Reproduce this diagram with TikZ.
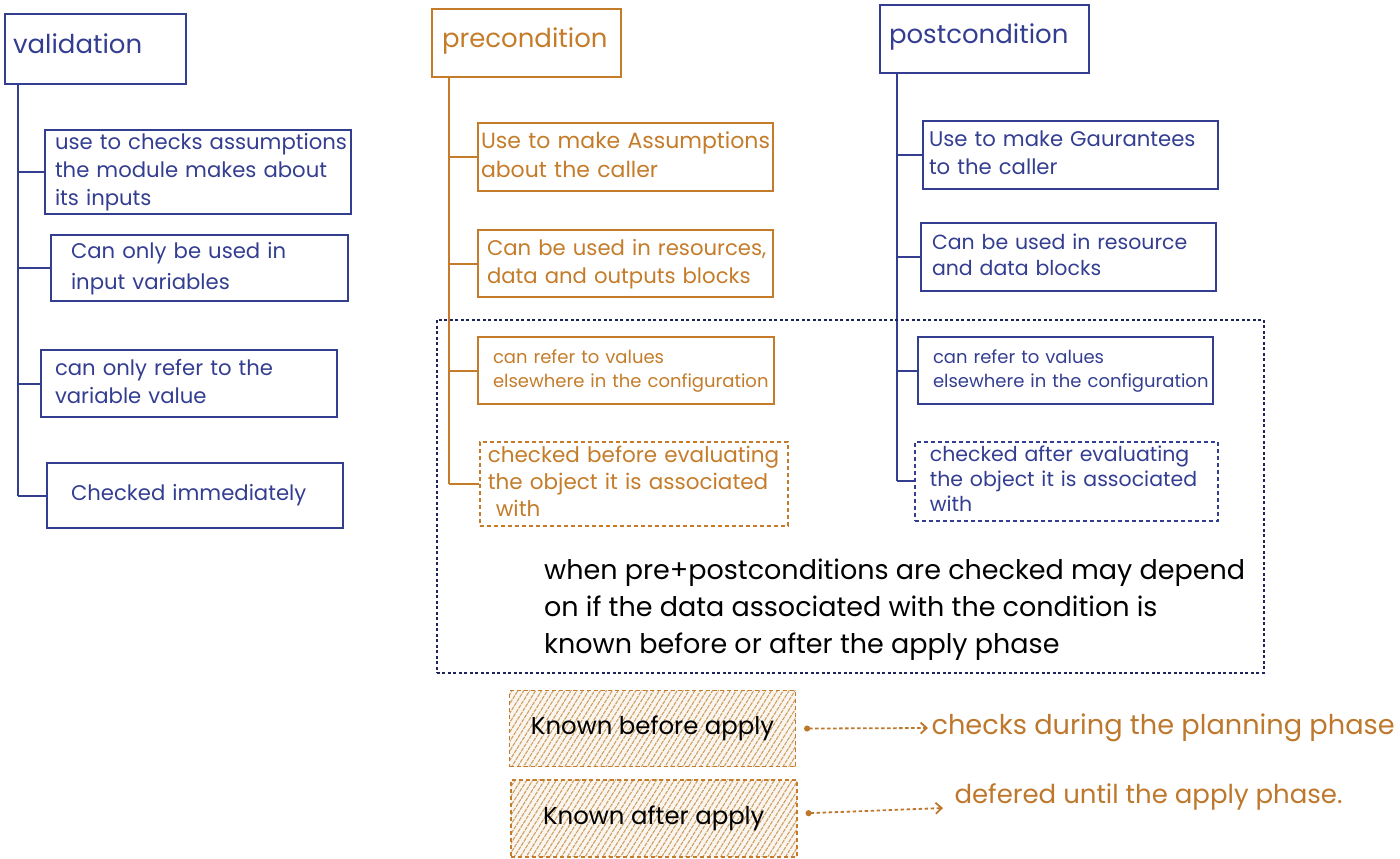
\documentclass[tikz,border=0pt]{standalone}
\usepackage{fontspec}
\setmainfont{Poppins}
\usetikzlibrary{arrows.meta,patterns.meta}
\definecolor{bl}{RGB}{52,62,145}
\definecolor{orn}{RGB}{196,124,42}
\definecolor{brn}{RGB}{190,120,45}
\definecolor{tanl}{RGB}{205,160,100}
\definecolor{nv}{RGB}{30,35,90}
\newcommand\ftitle{\fontsize{26}{30}\selectfont}
\newcommand\fbody{\fontsize{21.2}{28}\selectfont}
\newcommand\fbodyb{\fontsize{21.2}{31}\selectfont}
\newcommand\fsmall{\fontsize{18}{24}\selectfont}
\newcommand\fmid{\fontsize{20.5}{26}\selectfont}
\newcommand\fbig{\fontsize{27}{37}\selectfont}
\newcommand\lns[1]{\begin{tabular}{@{}l@{}}#1\end{tabular}}
\begin{document}
\begin{tikzpicture}[x=1pt,y=-1pt,
  bx/.style={draw, line width=2pt, anchor=north west, align=left, inner ysep=0pt},
  vb/.style={bx, draw=bl, text=bl},
  ob/.style={bx, draw=orn, text=orn},
  ttl/.style={text depth=10pt},
  dsh/.style={dash pattern=on 4pt off 3pt, line width=1.7pt},
  vline/.style={draw=bl, line width=2pt},
  oline/.style={draw=orn, line width=2pt},
  hatch/.style={draw=orn, dash pattern=on 4pt off 3pt, line width=1.6pt, anchor=north west,
    preaction={fill=tanl!10}, pattern={Lines[angle=58,distance=5pt,line width=1.1pt]}, pattern color=tanl, text=black, font=\fontsize{24.4}{28}\selectfont},
  arr/.style={draw=brn, line width=1.8pt, dash pattern=on 3.5pt off 2.5pt, {Circle[length=6pt]}-{Straight Barb[length=6pt,width=11pt]}},
]
\useasboundingbox (0,0) rectangle (1400,859);

% ---------- validation ----------
\node[vb, ttl, minimum width=181pt, minimum height=70pt, inner xsep=8pt, text width=165pt, font=\ftitle] (vT) at (4,13) {validation};
\node[vb, minimum width=306pt, minimum height=84pt, inner xsep=10pt, text width=286pt, font=\fbody] (v1) at (44,129) {\lns{use to checks assumptions\\the module makes about\\its inputs}};
\node[vb, minimum width=297pt, minimum height=66pt, inner xsep=20pt, text width=257pt, font=\fbodyb] (v2) at (50,234) {\lns{Can only be used in\\input variables}};
\node[vb, minimum width=296pt, minimum height=67pt, inner xsep=14pt, text width=268pt, font=\fbody] (v3) at (40,349) {\lns{can only refer to the\\variable value}};
\node[vb, minimum width=296pt, minimum height=65pt, inner xsep=24pt, text width=248pt, font=\fbody] (v4) at (46,462) {Checked immediately};
\coordinate (vs) at ([xshift=14pt]vT.south west);
\draw[vline] (vs) -- (vs |- v4.west);
\foreach \n in {v1,v2,v3,v4} \draw[vline] (vs |- \n.west) -- (\n.west);

% ---------- precondition ----------
\node[ob, ttl, minimum width=189pt, minimum height=68pt, inner xsep=10pt, text width=169pt, font=\ftitle] (pT) at (431,8) {precondition};
\node[ob, minimum width=295pt, minimum height=68pt, inner xsep=3pt, text width=289pt, font=\fontsize{22}{29}\selectfont] (p1) at (477,122) {\lns{Use to make Assumptions\\about the caller}};
\node[ob, minimum width=295pt, minimum height=67pt, inner xsep=9pt, text width=277pt, font=\fbody] (p2) at (477,229) {\lns{Can be used in resources,\\data and outputs blocks}};
\node[ob, minimum width=296pt, minimum height=67pt, inner xsep=15pt, text width=266pt, font=\fsmall] (p3) at (477,336) {\lns{can refer to values\\elsewhere in the configuration}};
\node[ob, dsh, minimum width=308pt, minimum height=84pt, inner xsep=8pt, text width=292pt, font=\fontsize{21.5}{27}\selectfont] (p4) at (479,441) {\lns{checked before evaluating\\the object it is associated\\\hspace{8pt}with}};
\coordinate (ps) at ([xshift=18pt]pT.south west);
\draw[oline] (ps) -- (ps |- p4.west);
\foreach \n in {p1,p2,p3,p4} \draw[oline] (ps |- \n.west) -- (\n.west);

% ---------- postcondition ----------
\node[vb, ttl, minimum width=209pt, minimum height=68pt, inner xsep=9pt, text width=191pt, font=\ftitle] (qT) at (879,4) {postcondition};
\node[vb, minimum width=295pt, minimum height=68pt, inner xsep=6pt, text width=283pt, font=\fbody] (q1) at (922,120) {\lns{Use to make Gaurantees\\to the caller}};
\node[vb, minimum width=295pt, minimum height=68pt, inner xsep=11pt, text width=273pt, font=\fmid] (q2) at (920,222) {\lns{Can be used in resource\\and data blocks}};
\node[vb, minimum width=295pt, minimum height=67pt, inner xsep=15pt, text width=265pt, font=\fsmall] (q3) at (917,336) {\lns{can refer to values\\elsewhere in the configuration}};
\node[vb, dsh, minimum width=303pt, minimum height=79pt, inner xsep=15pt, text width=273pt, font=\fontsize{20.5}{25}\selectfont] (q4) at (914,441) {\lns{checked after evaluating\\the object it is associated\\with}};
\coordinate (qs) at ([xshift=18pt]qT.south west);
\draw[vline] (qs) -- (qs |- q4.west);
\foreach \n in {q1,q2,q3,q4} \draw[vline] (qs |- \n.west) -- (\n.west);

% ---------- note box ----------
\node[draw=nv, line width=1.5pt, dash pattern=on 3pt off 2.5pt, anchor=north west, minimum width=827pt, minimum height=353pt, inner sep=0pt] (D) at (436,319) {};
\node[anchor=west, align=left, font=\fbig, text=black, inner sep=0pt] (note) at (544,609) {\lns{when pre+postconditions are checked may depend\\on if the data associated with the condition is\\known before or after the apply phase}};

% ---------- known before / after ----------
\node[hatch, minimum width=286pt, minimum height=76pt] (hA) at (509,690) {Known before apply};
\node[hatch, minimum width=286pt, minimum height=77pt] (hB) at (510,779) {Known after apply};
\node[anchor=west, text=brn, font=\fontsize{27.2}{32}\selectfont] (cA) at (928,728) {checks during the planning phase};
\node[anchor=west, text=brn, font=\fontsize{26}{30}\selectfont] (cB) at (951,797) {defered until the apply phase.};
\draw[arr] ([xshift=8pt]hA.east) -- (cA.west);
\draw[arr] ([xshift=8pt,yshift=5pt]hB.east) -- ([xshift=-8pt,yshift=-11pt]cB.west);
\end{tikzpicture}
\end{document}
